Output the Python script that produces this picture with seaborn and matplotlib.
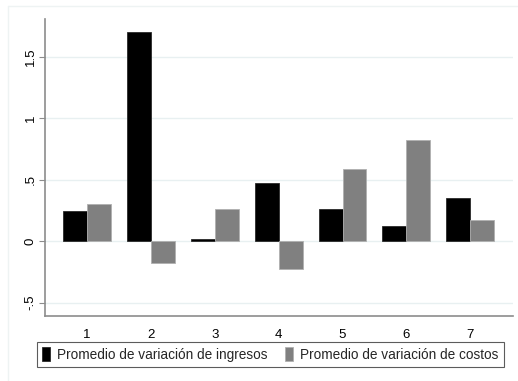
import matplotlib
matplotlib.use("Agg")
import matplotlib.pyplot as plt
import matplotlib.lines as mlines
import seaborn as sns
import pandas as pd

categories = ["1", "2", "3", "4", "5", "6", "7"]
ingresos = [0.247, 1.703, 0.019, 0.475, 0.261, 0.127, 0.350]
costos = [0.307, -0.179, 0.266, -0.226, 0.587, 0.823, 0.176]
series_names = ["Promedio de variación de ingresos", "Promedio de variación de costos"]
y_ticks = [-0.5, 0, 0.5, 1, 1.5]
y_ticklabels = ["-.5", "0", ".5", "1", "1.5"]

df = pd.DataFrame({
    "grupo": categories * 2,
    "valor": ingresos + costos,
    "serie": [series_names[0]] * len(categories) + [series_names[1]] * len(categories),
})

sns.set_style("white")
plt.rcParams["font.family"] = ["Liberation Sans", "DejaVu Sans"]

fig = plt.figure(figsize=(5.18, 3.81), dpi=100)
ax = fig.add_axes([45 / 518, 1 - 315.7 / 381, (513 - 45) / 518, (315.7 - 19) / 381])

palette = {series_names[0]: "#000000", series_names[1]: "#808080"}
sns.barplot(data=df, x="grupo", y="valor", hue="serie", order=categories,
            hue_order=series_names, palette=palette, width=0.75,
            saturation=1, errorbar=None, ax=ax, legend=False, zorder=3)

for p in ax.patches:
    p.set_edgecolor("#2a2a2a" if p.get_facecolor()[0] < 0.1 else "#b0b0b0")
    p.set_linewidth(0.6)

ax.set_xlim(-0.66, 6.67)
ax.set_ylim(-0.607, 1.81)
ax.set_yticks(y_ticks)
ax.set_yticklabels(y_ticklabels, rotation=90, va="center")
ax.set_xlabel("")
ax.set_ylabel("")

ax.yaxis.grid(True, color="#e8f0f1", linewidth=1.0, zorder=0)
ax.xaxis.grid(False)
ax.set_axisbelow(True)

for side in ["top", "right"]:
    ax.spines[side].set_visible(False)
for side in ["left", "bottom"]:
    ax.spines[side].set_visible(True)
    ax.spines[side].set_color("#8c8c8c")
    ax.spines[side].set_linewidth(1.2)

ax.tick_params(axis="y", which="both", left=True, length=4, width=0.8,
               color="#8c8c8c", labelsize=9.5, pad=2, labelcolor="#000000")
ax.tick_params(axis="x", which="both", bottom=False, labelsize=9.5, pad=6,
               labelcolor="#000000")

# Legend below the plot area
handles = [
    plt.Rectangle((0, 0), 1, 1, facecolor="#000000", edgecolor="#2a2a2a", linewidth=0.6),
    plt.Rectangle((0, 0), 1, 1, facecolor="#808080", edgecolor="#b0b0b0", linewidth=0.6),
]
leg = fig.legend(handles, series_names, loc="center",
                 bbox_to_anchor=((41 + 500) / 2 / 518, 1 - 354.5 / 381),
                 ncol=2, frameon=True, fancybox=False, fontsize=9.8,
                 handlelength=0.55, handleheight=1.2, handletextpad=0.55,
                 columnspacing=1.3, borderpad=0.4, borderaxespad=0)
leg.get_frame().set_edgecolor("#333333")
leg.get_frame().set_linewidth(0.8)

# Faint graph-region border
fig.add_artist(mlines.Line2D([8 / 518, 1], [1 - 6 / 381, 1 - 6 / 381],
                             color="#eef3f3", linewidth=1.0, transform=fig.transFigure))
fig.add_artist(mlines.Line2D([8 / 518, 8 / 518], [0, 1 - 6 / 381],
                             color="#eef3f3", linewidth=1.0, transform=fig.transFigure))

fig.savefig("out.png", dpi=100, facecolor="white")
